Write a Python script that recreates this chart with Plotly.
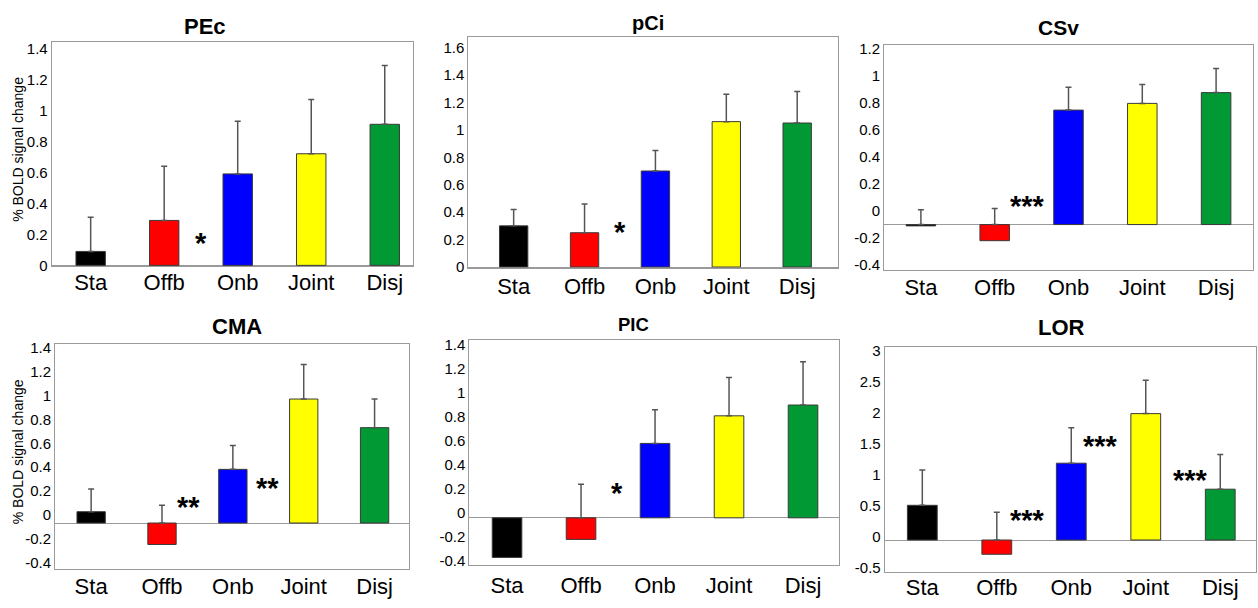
import plotly.graph_objects as go

W, H = 1258, 608

categories = ["Sta", "Offb", "Onb", "Joint", "Disj"]
bar_colors = ["#000000", "#ff0000", "#0000ff", "#ffff00", "#009933"]

# mean % BOLD signal change and SEM per region
pec_mean = [0.09, 0.29, 0.59, 0.72, 0.91]
pec_sem = [0.22, 0.35, 0.34, 0.35, 0.38]
pci_mean = [0.30, 0.25, 0.70, 1.06, 1.05]
pci_sem = [0.12, 0.21, 0.15, 0.20, 0.23]
csv_mean = [-0.01, -0.12, 0.85, 0.90, 0.98]
csv_sem = [0.12, 0.24, 0.17, 0.14, 0.18]
cma_mean = [0.095, -0.18, 0.45, 1.04, 0.80]
cma_sem = [0.19, 0.33, 0.20, 0.29, 0.24]
pic_mean = [-0.33, -0.18, 0.62, 0.85, 0.94]
pic_sem = [0.20, 0.46, 0.28, 0.32, 0.36]
lor_mean = [0.56, -0.23, 1.24, 2.04, 0.82]
lor_sem = [0.57, 0.68, 0.57, 0.54, 0.56]

# significance markers: (text, x position in category index, y value)
pec_stars = [("*", 1.5, 0.17)]
pci_stars = [("*", 1.5, 0.283)]
csv_stars = [("***", 1.45, 0.164)]
cma_stars = [("**", 1.38, 0.164), ("**", 2.49, 0.328)]
pic_stars = [("*", 1.48, 0.237)]
lor_stars = [("***", 1.41, 0.395), ("***", 2.39, 1.575), ("***", 3.6, 1.027)]

tick_02_14 = [0, 0.2, 0.4, 0.6, 0.8, 1.0, 1.2, 1.4]
tick_02_16 = tick_02_14 + [1.6]
tick_m04_12 = [-0.4, -0.2, 0, 0.2, 0.4, 0.6, 0.8, 1.0, 1.2]
tick_m04_14 = tick_m04_12 + [1.4]
tick_lor = [-0.5, 0, 0.5, 1.0, 1.5, 2.0, 2.5, 3.0]

FONT = "Liberation Sans, Arial, sans-serif"

panels = [
    dict(title="PEc", mean=pec_mean, sem=pec_sem, stars=pec_stars, ticks=tick_02_14,
         box=(51.7, 412.7, 37.3, 266.7), xr=[-0.53, 4.38], yr=[-0.004, 1.444], shift=0.0,
         tsize=22, tpos=(205, 22), ylabel=True, xstand=-3),
    dict(title="pCi", mean=pci_mean, sem=pci_sem, stars=pci_stars, ticks=tick_02_16,
         box=(468.3, 838.3, 32.3, 268.3), xr=[-0.64, 4.58], yr=[-0.004, 1.68], shift=0.0,
         tsize=20, tpos=(648, 18.5), ylabel=False, xstand=-1),
    dict(title="CSv", mean=csv_mean, sem=csv_sem, stars=csv_stars, ticks=tick_m04_12,
         box=(884, 1253, 40.7, 270.7), xr=[-0.5, 4.5], yr=[-0.337, 1.335], shift=0.104,
         tsize=21, tpos=(1058, 22.5), ylabel=False, xstand=-2),
    dict(title="CMA", mean=cma_mean, sem=cma_sem, stars=cma_stars, ticks=tick_m04_14,
         box=(55, 409.3, 346, 576), xr=[-0.51, 4.49], yr=[-0.383, 1.505], shift=0.068,
         tsize=22, tpos=(236.7, 328.3), ylabel=True, xstand=-2),
    dict(title="PIC", mean=pic_mean, sem=pic_sem, stars=pic_stars, ticks=tick_m04_14,
         box=(469.3, 839.3, 342.3, 572.7), xr=[-0.51, 4.49], yr=[-0.397, 1.482], shift=0.04,
         tsize=18.5, tpos=(633.3, 326.7), ylabel=False, xstand=0),
    dict(title="LOR", mean=lor_mean, sem=lor_sem, stars=lor_stars, ticks=tick_lor,
         box=(884.7, 1256, 349.3, 579.3), xr=[-0.505, 4.48], yr=[-0.515, 3.118], shift=0.06,
         tsize=22, tpos=(1061.3, 330), ylabel=False, xstand=-4),
]


def fmt(v):
    return "%g" % v


fig = go.Figure()
annotations = []
layout = {}

for i, p in enumerate(panels):
    n = "" if i == 0 else str(i + 1)
    xa, ya = "x" + n, "y" + n
    x0, x1, y0, y1 = p["box"]

    fig.add_trace(go.Bar(
        x=categories, y=p["mean"], xaxis=xa, yaxis=ya, width=0.4,
        marker=dict(color=bar_colors, line=dict(color="#3a3a3a", width=1)),
        showlegend=False, hoverinfo="skip",
    ))
    # whiskers rise from the top of each bar (or from the zero line for negative bars)
    starts, lengths = [], []
    for m, s in zip(p["mean"], p["sem"]):
        st = max(m, 0.0)
        ln = m + s - st
        if ln <= 0:
            starts.append(None)
            lengths.append(0)
        else:
            starts.append(st)
            lengths.append(ln)
    fig.add_trace(go.Scatter(
        x=categories, y=starts, xaxis=xa, yaxis=ya, mode="markers",
        marker=dict(size=0.1, color="rgba(0,0,0,0)"),
        error_y=dict(type="data", symmetric=False, array=lengths,
                     arrayminus=[0] * 5, color="#555555", thickness=1.5, width=3),
        showlegend=False, hoverinfo="skip",
    ))

    layout["xaxis" + n] = dict(
        domain=[x0 / W, x1 / W], anchor=ya, range=p["xr"], type="category",
        showline=True, linecolor="#9a9a9a", linewidth=1, mirror=True,
        showgrid=False, zeroline=False, ticks="", ticklabelstandoff=p["xstand"],
        tickfont=dict(family=FONT, size=22, color="#000000"),
    )
    layout["yaxis" + n] = dict(
        domain=[1 - y1 / H, 1 - y0 / H], anchor=xa, range=p["yr"],
        showline=True, linecolor="#9a9a9a", linewidth=1, mirror=True,
        showgrid=False, zeroline=True, zerolinecolor="#9a9a9a", zerolinewidth=1,
        ticks="", tickmode="array",
        tickvals=[t + p["shift"] for t in p["ticks"]],
        ticktext=[fmt(t) for t in p["ticks"]],
        tickfont=dict(family=FONT, size=15, color="#000000"),
    )

    annotations.append(dict(
        text="<b>%s</b>" % p["title"], xref="paper", yref="paper",
        x=p["tpos"][0] / W, y=1 - p["tpos"][1] / H, showarrow=False,
        xanchor="center", yanchor="middle",
        font=dict(family=FONT, size=p["tsize"], color="#000000"),
    ))
    if p["ylabel"]:
        annotations.append(dict(
            text="% BOLD signal change", xref="paper", yref="paper",
            x=18 / W, y=1 - ((y0 + y1) / 2 - 4) / H, textangle=-90, showarrow=False,
            xanchor="center", yanchor="middle",
            font=dict(family=FONT, size=14, color="#000000"),
        ))
    for txt, sx, sy in p["stars"]:
        annotations.append(dict(
            text="<b>%s</b>" % txt, xref=xa, yref=ya, x=sx, y=sy, showarrow=False,
            xanchor="center", yanchor="middle", yshift=-4,
            font=dict(family=FONT, size=29, color="#000000"),
        ))

fig.update_layout(
    width=W, height=H, margin=dict(l=0, r=0, t=0, b=0),
    paper_bgcolor="#ffffff", plot_bgcolor="#ffffff",
    annotations=annotations, bargap=0.6, **layout,
)

fig.write_html("out.html", config={"displayModeBar": False},
               post_script="document.body.style.margin='0px';")
